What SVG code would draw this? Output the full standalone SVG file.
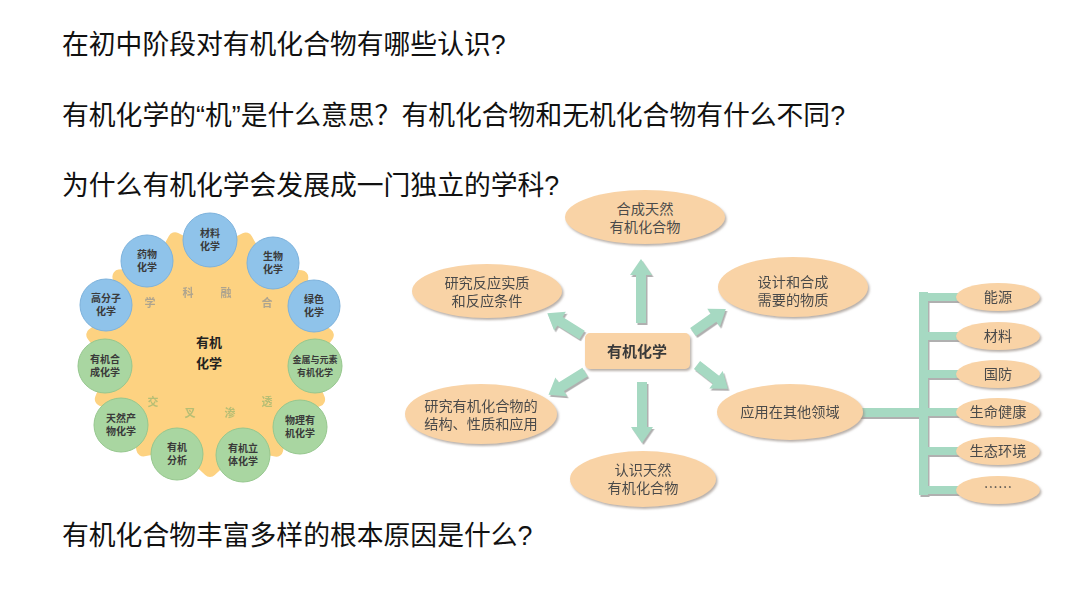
<svg xmlns="http://www.w3.org/2000/svg" width="1080" height="608" viewBox="0 0 1080 608">
<defs>
<style>
.q{font-family:"Liberation Sans","Noto Sans CJK SC",sans-serif;font-size:26.8px;fill:#111}
.t{font-family:"Noto Sans CJK SC",sans-serif;font-size:14.2px;fill:#4a4a4a;text-anchor:middle}
.ct{font-family:"Noto Sans CJK SC",sans-serif;font-size:10px;font-weight:bold;fill:#3a3a3a;text-anchor:middle}
.fa{font-family:"Noto Sans CJK SC",sans-serif;font-size:11px;font-weight:bold;text-anchor:middle;opacity:.55}
.blue{fill:#8fc3ea;stroke:#7db2dc;stroke-width:1}
.green{fill:#a9d6a1;stroke:#96c78e;stroke-width:1}
.el{fill:#f9d3a6;filter:url(#sh)}
.ar{fill:#a6d9c2}
.bar{fill:#a6d9c2}
</style>
<filter id="sh" x="-20%" y="-20%" width="140%" height="150%">
<feDropShadow dx="1.5" dy="2" stdDeviation="0.8" flood-color="#9a8f86" flood-opacity="0.7"/>
</filter>
<filter id="ash" x="-20%" y="-20%" width="140%" height="150%">
<feDropShadow dx="1.5" dy="2" stdDeviation="0.6" flood-color="#9c9c9c" flood-opacity="0.8"/>
</filter>
</defs>
<rect width="1080" height="608" fill="#ffffff"/>

<g id="questions">
<text class="q" x="62" y="54">在初中阶段对有机化合物有哪些认识?</text>
<text class="q" x="62" y="125">有机化学的“机”是什么意思？有机化合物和无机化合物有什么不同?</text>
<text class="q" x="62" y="195">为什么有机化学会发展成一门独立的学科?</text>
<text class="q" x="62" y="545">有机化合物丰富多样的根本原因是什么?</text>
</g>

<g id="left-figure">
<polygon points="245.7,239.5 264.9,274.5 301.3,277.3 296.8,313.5 326.8,335.2 304.1,364.5 318.1,399.4 283,412.8 276.2,449.7 239.4,442.3 210,470 180.6,442.3 143.4,449.5 136.6,412.2 101.8,399.1 115.9,364.5 93.3,334.8 123.5,312.9 119.4,276.5 155.9,273.9 175,239.3 210,257" fill="#fdd281" stroke="#fdd281" stroke-width="14" stroke-linejoin="round"/>
<circle cx="210" cy="352" r="98" fill="#fdd281"/>
<text class="fa" x="150" y="307" style="fill:#6f7f9a">学</text>
<text class="fa" x="188" y="297" style="fill:#6f7f9a">科</text>
<text class="fa" x="226" y="297" style="fill:#6f7f9a">融</text>
<text class="fa" x="267" y="307" style="fill:#6f7f9a">合</text>
<text class="fa" x="153" y="406" style="fill:#7fae6a">交</text>
<text class="fa" x="190" y="417" style="fill:#7fae6a">叉</text>
<text class="fa" x="230" y="417" style="fill:#7fae6a">渗</text>
<text class="fa" x="267" y="406" style="fill:#7fae6a">透</text>
<text x="209" y="347" style="font-family:'Noto Sans CJK SC',sans-serif;font-size:13px;font-weight:bold;fill:#222;text-anchor:middle">有机</text>
<text x="209" y="368" style="font-family:'Noto Sans CJK SC',sans-serif;font-size:13px;font-weight:bold;fill:#222;text-anchor:middle">化学</text>

<g id="c-cailiao"><circle class="blue" cx="210" cy="240" r="27"/><text class="ct" x="210" y="237">材料</text><text class="ct" x="210" y="250">化学</text></g>
<g id="c-yaowu"><circle class="blue" cx="147" cy="261" r="26"/><text class="ct" x="147" y="258">药物</text><text class="ct" x="147" y="271">化学</text></g>
<g id="c-shengwu"><circle class="blue" cx="273" cy="263" r="26"/><text class="ct" x="273" y="260">生物</text><text class="ct" x="273" y="273">化学</text></g>
<g id="c-gaofenzi"><circle class="blue" cx="106" cy="305" r="26"/><text class="ct" x="106" y="302">高分子</text><text class="ct" x="106" y="315">化学</text></g>
<g id="c-lvse"><circle class="blue" cx="314" cy="306" r="26"/><text class="ct" x="314" y="303">绿色</text><text class="ct" x="314" y="316">化学</text></g>
<g id="c-hecheng"><circle class="green" cx="105" cy="366" r="27"/><text class="ct" x="105" y="363">有机合</text><text class="ct" x="105" y="376">成化学</text></g>
<g id="c-jinshu"><circle class="green" cx="315" cy="366" r="27"/><text class="ct" x="315" y="363" style="font-size:9px">金属与元素</text><text class="ct" x="315" y="376" style="font-size:9px">有机化学</text></g>
<g id="c-tianran"><circle class="green" cx="121" cy="425" r="27"/><text class="ct" x="121" y="422">天然产</text><text class="ct" x="121" y="435">物化学</text></g>
<g id="c-wuli"><circle class="green" cx="300" cy="427" r="27"/><text class="ct" x="300" y="424">物理有</text><text class="ct" x="300" y="437">机化学</text></g>
<g id="c-fenxi"><circle class="green" cx="177" cy="454" r="26"/><text class="ct" x="177" y="451">有机</text><text class="ct" x="177" y="464">分析</text></g>
<g id="c-liti"><circle class="green" cx="243" cy="455" r="27"/><text class="ct" x="243" y="452">有机立</text><text class="ct" x="243" y="465">体化学</text></g>
</g>

<g id="connectors" filter="url(#ash)">
<polygon class="ar" transform="translate(641,323) rotate(-90)" points="0,-5 48,-5 48,-11 64,0 48,11 48,5 0,5"/>
<polygon class="ar" transform="translate(642,382) rotate(90)" points="0,-5 45,-5 45,-11 61,0 45,11 45,5 0,5"/>
<polygon class="ar" transform="translate(582,335) rotate(212.2)" points="0,-5 26,-5 26,-11 41,0 26,11 26,5 0,5"/>
<polygon class="ar" transform="translate(585,372) rotate(148.1)" points="0,-5 28,-5 28,-11 43,0 28,11 28,5 0,5"/>
<polygon class="ar" transform="translate(693,332) rotate(-34.9)" points="0,-5 25,-5 25,-11 40,0 25,11 25,5 0,5"/>
<polygon class="ar" transform="translate(697,365) rotate(37.7)" points="0,-5 24,-5 24,-11 39,0 24,11 24,5 0,5"/>
<rect class="bar" x="858" y="408" width="68" height="9"/>
<rect class="bar" x="919" y="292" width="9" height="203"/>
<rect class="bar" x="919" y="293" width="50" height="8"/>
<rect class="bar" x="919" y="332" width="50" height="8"/>
<rect class="bar" x="919" y="370" width="50" height="8"/>
<rect class="bar" x="919" y="408" width="50" height="8"/>
<rect class="bar" x="919" y="447" width="50" height="8"/>
<rect class="bar" x="919" y="486" width="50" height="8"/>
</g>

<g id="n-center"><rect x="585" y="333" width="105" height="36" rx="5" fill="#f9d3a6" filter="url(#sh)"/><text x="637" y="357" style="font-family:'Noto Sans CJK SC',sans-serif;font-size:15px;font-weight:bold;fill:#3a3a3a;text-anchor:middle">有机化学</text></g>
<g id="n-hecheng"><ellipse class="el" cx="645" cy="217" rx="80" ry="27"/><text class="t" x="645" y="214">合成天然</text><text class="t" x="645" y="232">有机化合物</text></g>
<g id="n-fanying"><ellipse class="el" cx="487" cy="291" rx="75" ry="27"/><text class="t" x="487" y="288">研究反应实质</text><text class="t" x="487" y="306">和反应条件</text></g>
<g id="n-sheji"><ellipse class="el" cx="793" cy="287" rx="75" ry="30"/><text class="t" x="793" y="287">设计和合成</text><text class="t" x="793" y="305">需要的物质</text></g>
<g id="n-jiegou"><ellipse class="el" cx="481" cy="414" rx="76" ry="30"/><text class="t" x="481" y="411">研究有机化合物的</text><text class="t" x="481" y="429">结构、性质和应用</text></g>
<g id="n-yingyong"><ellipse class="el" cx="790" cy="412" rx="73" ry="28"/><text class="t" x="790" y="417">应用在其他领域</text></g>
<g id="n-renshi"><ellipse class="el" cx="643" cy="479" rx="73" ry="28"/><text class="t" x="643" y="475">认识天然</text><text class="t" x="643" y="493">有机化合物</text></g>

<g id="n-nengyuan"><ellipse class="el" cx="998" cy="297" rx="42" ry="14"/><text class="t" x="998" y="302">能源</text></g>
<g id="n-cailiao"><ellipse class="el" cx="998" cy="336" rx="42" ry="14"/><text class="t" x="998" y="341">材料</text></g>
<g id="n-guofang"><ellipse class="el" cx="998" cy="374" rx="42" ry="14"/><text class="t" x="998" y="379">国防</text></g>
<g id="n-jiankang"><ellipse class="el" cx="998" cy="412" rx="42" ry="14"/><text class="t" x="998" y="417">生命健康</text></g>
<g id="n-huanjing"><ellipse class="el" cx="998" cy="451" rx="42" ry="14"/><text class="t" x="998" y="456">生态环境</text></g>
<g id="n-more"><ellipse class="el" cx="998" cy="490" rx="42" ry="14"/><text class="t" x="998" y="492">……</text></g>
</svg>
